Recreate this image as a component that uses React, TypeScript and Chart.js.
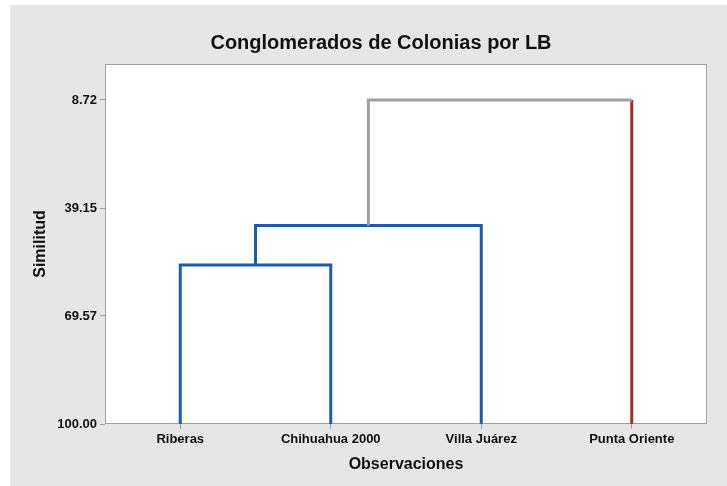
import { useEffect, useRef } from 'react';
import { Chart, registerables } from 'chart.js';

Chart.register(...registerables);

const chartTitle = 'Conglomerados de Colonias por LB';
const xAxisTitle = 'Observaciones';
const yAxisTitle = 'Similitud';
const observations = ['Riberas', 'Chihuahua 2000', 'Villa Juárez', 'Punta Oriente'];
const similarityTicks = [8.72, 39.15, 69.57, 100.0];
const leafCluster = [0, 0, 0, 1];
// merge k joins node mergeA[k] and node mergeB[k] (leaves are 0..3, merges are 4..)
const mergeA = [0, 4, 5];
const mergeB = [1, 2, 3];
const mergeSimilarity = [55.2, 44.1, 8.72];
const clusterColors = ['#1f5ca8', '#a82a2a'];
const linkColor = '#a0a0a0';

const FONT = 'Liberation Sans, Arial, sans-serif';

function buildDatasets() {
  const n = observations.length;
  const pos: number[] = [];
  const sim: number[] = [];
  const clu: number[] = [];
  for (let i = 0; i < n; i++) {
    pos.push(i);
    sim.push(100);
    clu.push(leafCluster[i]);
  }
  const grayDs: any[] = [];
  const colorDs: any[] = [];
  const mk = (data: any[], color: string) => ({
    data,
    borderColor: color,
    borderWidth: 3,
    pointRadius: 0,
    showLine: true,
    fill: false,
    tension: 0,
    borderJoinStyle: 'miter',
    borderCapStyle: 'butt',
  });
  mergeSimilarity.forEach((s, k) => {
    const a = mergeA[k];
    const b = mergeB[k];
    pos.push((pos[a] + pos[b]) / 2);
    sim.push(s);
    const same = clu[a] === clu[b];
    clu.push(same ? clu[a] : -1);
    if (same) {
      colorDs.push(
        mk(
          [
            { x: pos[a], y: sim[a] },
            { x: pos[a], y: s },
            { x: pos[b], y: s },
            { x: pos[b], y: sim[b] },
          ],
          clusterColors[clu[a]]
        )
      );
    } else {
      const aLeaf = a < n;
      const bLeaf = b < n;
      grayDs.push(
        mk(
          [
            { x: pos[a], y: aLeaf ? s : sim[a] },
            { x: pos[a], y: s },
            { x: pos[b], y: s },
            { x: pos[b], y: bLeaf ? s : sim[b] },
          ],
          linkColor
        )
      );
      [a, b].forEach((c) => {
        if (c < n) {
          colorDs.push(
            mk(
              [
                { x: pos[c], y: sim[c] },
                { x: pos[c], y: s },
              ],
              clusterColors[clu[c]]
            )
          );
        }
      });
    }
  });
  return [...grayDs, ...colorDs];
}

const backgroundPlugin = {
  id: 'bgPanel',
  beforeDraw(chart: any) {
    const { ctx, width, height, chartArea } = chart;
    ctx.save();
    ctx.fillStyle = '#ffffff';
    ctx.fillRect(0, 0, width, height);
    ctx.fillStyle = '#e6e6e6';
    ctx.fillRect(10, 5, width - 10, height - 5);
    ctx.fillStyle = '#ffffff';
    ctx.fillRect(chartArea.left, chartArea.top, chartArea.right - chartArea.left, chartArea.bottom - chartArea.top);
    ctx.fillStyle = '#111111';
    ctx.font = `bold 20px ${FONT}`;
    ctx.textAlign = 'center';
    ctx.textBaseline = 'middle';
    ctx.fillText(chartTitle, 381, 43);
    ctx.restore();
  },
  beforeDatasetsDraw(chart: any) {
    const { ctx, chartArea } = chart;
    ctx.save();
    ctx.strokeStyle = '#a0a0a0';
    ctx.lineWidth = 1;
    ctx.strokeRect(
      Math.round(chartArea.left) + 0.5,
      Math.round(chartArea.top) + 0.5,
      Math.round(chartArea.right - chartArea.left) - 1,
      Math.round(chartArea.bottom - chartArea.top) - 1
    );
    ctx.restore();
  },
};

export default function App() {
  const ref = useRef<HTMLCanvasElement | null>(null);
  useEffect(() => {
    document.body.style.margin = '0';
    if (!ref.current) return;
    const chart = new Chart(ref.current, {
      type: 'scatter',
      data: { datasets: buildDatasets() as any },
      plugins: [backgroundPlugin],
      options: {
        animation: false,
        responsive: false,
        layout: { padding: { top: 64, left: 0, right: 20, bottom: 0 } },
        plugins: {
          legend: { display: false },
          title: { display: false },
          tooltip: { enabled: false },
        },
        scales: {
          x: {
            type: 'linear',
            min: -0.5,
            max: 3.5,
            afterBuildTicks: (scale: any) => {
              scale.ticks = observations.map((_, i) => ({ value: i }));
            },
            afterFit: (scale: any) => {
              scale.height = 62;
            },
            ticks: {
              callback: (v: any) => observations[Math.round(Number(v))] ?? '',
              color: '#111111',
              font: { family: FONT, size: 13, weight: 'bold' },
              padding: 3,
              maxRotation: 0,
              autoSkip: false,
            },
            grid: {
              display: true,
              drawOnChartArea: false,
              drawTicks: true,
              tickLength: 5,
              color: '#a0a0a0',
            },
            border: { display: false },
            title: {
              display: true,
              text: xAxisTitle,
              color: '#111111',
              font: { family: FONT, size: 16, weight: 'bold' },
              padding: { top: 0, bottom: 12 },
            },
          },
          y: {
            type: 'linear',
            reverse: true,
            min: -1.42,
            max: 100,
            afterBuildTicks: (scale: any) => {
              scale.ticks = similarityTicks.map((v) => ({ value: v }));
            },
            afterFit: (scale: any) => {
              scale.width = 105;
            },
            ticks: {
              callback: (v: any) => Number(v).toFixed(2),
              color: '#111111',
              font: { family: FONT, size: 13, weight: 'bold' },
              padding: 3,
              autoSkip: false,
            },
            grid: {
              display: true,
              drawOnChartArea: false,
              drawTicks: true,
              tickLength: 5,
              color: '#a0a0a0',
            },
            border: { display: false },
            title: {
              display: true,
              text: yAxisTitle,
              color: '#111111',
              font: { family: FONT, size: 16, weight: 'bold' },
              padding: { top: 31, bottom: 0 },
            },
          },
        },
      } as any,
    });
    return () => chart.destroy();
  }, []);
  return (
    <div style={{ width: 727, height: 486 }}>
      <canvas ref={ref} width={727} height={486} style={{ display: 'block' }} />
    </div>
  );
}
